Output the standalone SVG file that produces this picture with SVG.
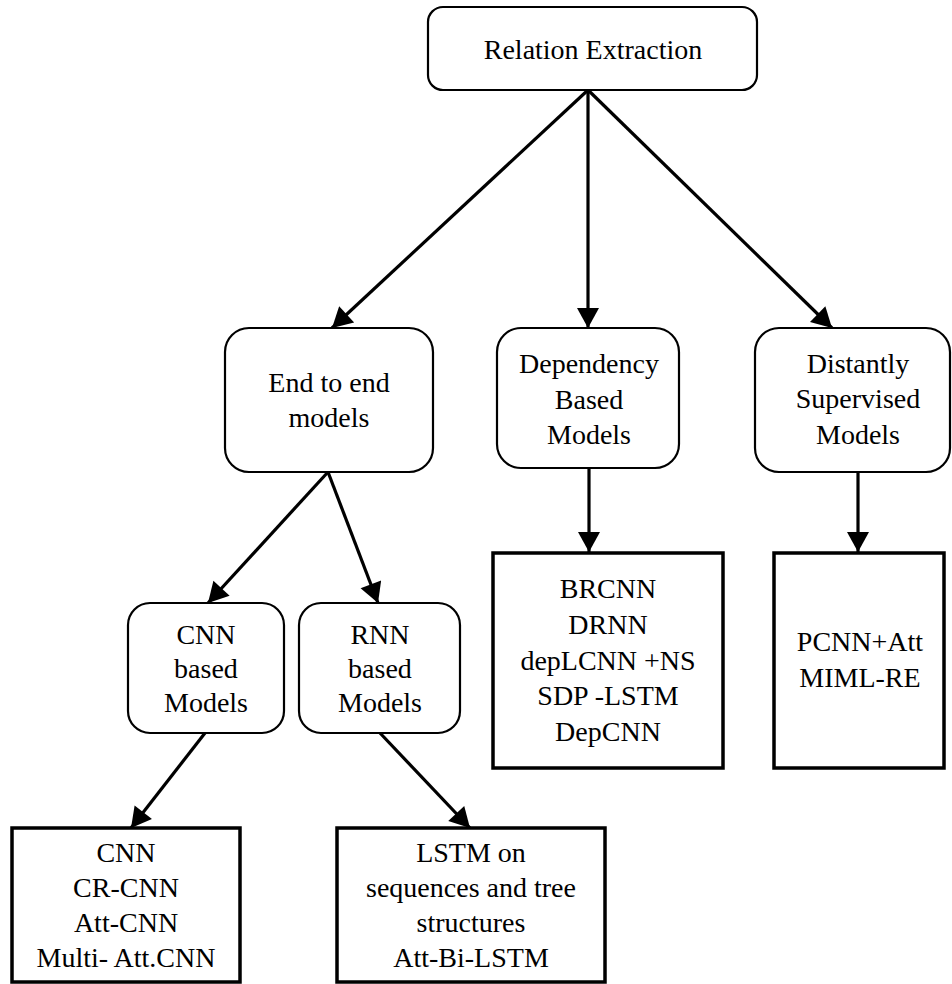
<svg xmlns="http://www.w3.org/2000/svg" width="952" height="984" viewBox="0 0 952 984">
<style>
.rbox{fill:#fff;stroke:#000;stroke-width:2.2}
.sbox{fill:#fff;stroke:#000;stroke-width:3.5}
.t text{font-family:'Liberation Serif','Times New Roman',serif;font-size:28px;fill:#000;text-anchor:middle}
.conn line{stroke:#000;stroke-width:3.2;fill:none}
</style>
<defs>
<marker id="ah" markerUnits="userSpaceOnUse" markerWidth="24" markerHeight="24" viewBox="0 0 22 24" refX="20" refY="11" orient="auto">
<path d="M0,0 L20,11 L0,22 Z" fill="#000"/>
</marker>
</defs>
<rect width="952" height="984" fill="#fff"/>
<g class="conn">
<line x1="588" y1="90" x2="332" y2="328" marker-end="url(#ah)"/>
<line x1="588" y1="90" x2="588" y2="328" marker-end="url(#ah)"/>
<line x1="588" y1="90" x2="832" y2="328" marker-end="url(#ah)"/>
<line x1="328" y1="472" x2="208" y2="603" marker-end="url(#ah)"/>
<line x1="328" y1="472" x2="378" y2="603" marker-end="url(#ah)"/>
<line x1="589" y1="468" x2="589" y2="552" marker-end="url(#ah)"/>
<line x1="858" y1="472" x2="858" y2="552" marker-end="url(#ah)"/>
<line x1="205" y1="733" x2="131" y2="828" marker-end="url(#ah)"/>
<line x1="380" y1="733" x2="470" y2="828" marker-end="url(#ah)"/>
</g>
<g id="root" class="t">
<rect class="rbox" x="428" y="7" width="329" height="83" rx="15"/>
<text x="593" y="59">Relation Extraction</text>
</g>
<g id="end2end" class="t">
<rect class="rbox" x="225" y="328" width="208" height="144" rx="24"/>
<text x="329" y="392">End to end</text>
<text x="329" y="427">models</text>
</g>
<g id="dependency" class="t">
<rect class="rbox" x="497" y="328" width="182" height="140" rx="24"/>
<text x="589" y="373">Dependency</text>
<text x="589" y="409">Based</text>
<text x="589" y="444">Models</text>
</g>
<g id="distant" class="t">
<rect class="rbox" x="755" y="328" width="195" height="144" rx="24"/>
<text x="858" y="373">Distantly</text>
<text x="858" y="408">Supervised</text>
<text x="858" y="444">Models</text>
</g>
<g id="cnn" class="t">
<rect class="rbox" x="128" y="603" width="156" height="130" rx="22"/>
<text x="206" y="644">CNN</text>
<text x="206" y="678">based</text>
<text x="206" y="712">Models</text>
</g>
<g id="rnn" class="t">
<rect class="rbox" x="299" y="603" width="161" height="130" rx="22"/>
<text x="380" y="644">RNN</text>
<text x="380" y="678">based</text>
<text x="380" y="712">Models</text>
</g>
<g id="deplist" class="t">
<rect class="sbox" x="493" y="553" width="230" height="215"/>
<text x="608" y="598">BRCNN</text>
<text x="608" y="634">DRNN</text>
<text x="608" y="670">depLCNN +NS</text>
<text x="608" y="705">SDP -LSTM</text>
<text x="608" y="741">DepCNN</text>
</g>
<g id="distlist" class="t">
<rect class="sbox" x="774" y="553" width="170" height="215"/>
<text x="860" y="651">PCNN+Att</text>
<text x="860" y="687">MIML-RE</text>
</g>
<g id="cnnlist" class="t">
<rect class="sbox" x="12" y="828" width="228" height="154"/>
<text x="126" y="862">CNN</text>
<text x="126" y="897">CR-CNN</text>
<text x="126" y="932">Att-CNN</text>
<text x="126" y="967">Multi- Att.CNN</text>
</g>
<g id="rnnlist" class="t">
<rect class="sbox" x="337" y="828" width="268" height="154"/>
<text x="471" y="862">LSTM on</text>
<text x="471" y="897">sequences and tree</text>
<text x="471" y="932">structures</text>
<text x="471" y="967">Att-Bi-LSTM</text>
</g>
</svg>
